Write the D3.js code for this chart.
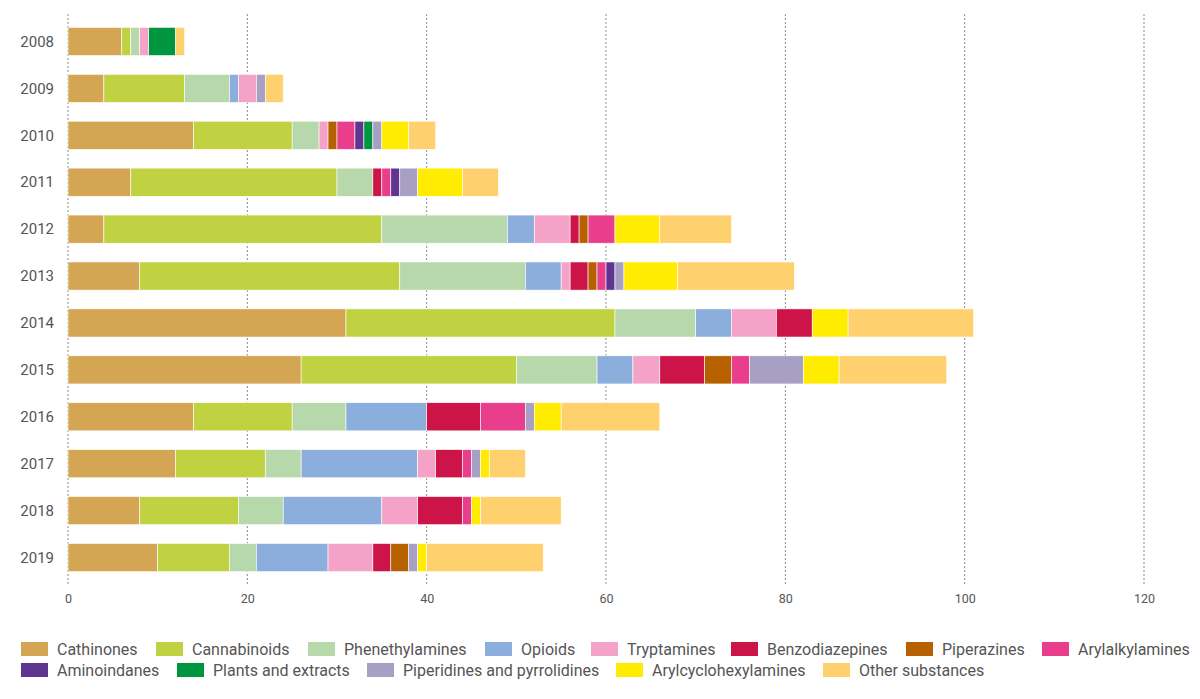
<!DOCTYPE html>
<html>
<head>
<meta charset="utf-8">
<script src="https://cdn.jsdelivr.net/npm/d3@7"></script>
<style>
  body { margin: 0; background: #fff; }
  svg { display: block; font-family: Roboto, "Noto Sans", sans-serif; }
</style>
</head>
<body>
<svg id="chart" width="1200" height="699"></svg>
<script>
// Data
const years = ["2008", "2009", "2010", "2011", "2012", "2013", "2014", "2015", "2016", "2017", "2018", "2019"];
const groups = ["Cathinones", "Cannabinoids", "Phenethylamines", "Opioids", "Tryptamines", "Benzodiazepines",
  "Piperazines", "Arylalkylamines", "Aminoindanes", "Plants and extracts", "Piperidines and pyrrolidines",
  "Arylcyclohexylamines", "Other substances"];
const colors = ["#d4a553", "#c0d241", "#b6d8ab", "#8caedc", "#f4a2c8", "#cc1449",
  "#b66000", "#e83e8c", "#5f3590", "#00953f", "#a89fc4", "#ffec00", "#ffd06e"];

// counts per group, one entry per year (2008..2019)
const cathinones      = [6, 4, 14, 7, 4, 8, 31, 26, 14, 12, 8, 10];
const cannabinoids    = [1, 9, 11, 23, 31, 29, 30, 24, 11, 10, 11, 8];
const phenethylamines = [1, 5, 3, 4, 14, 14, 9, 9, 6, 4, 5, 3];
const opioids         = [0, 1, 0, 0, 3, 4, 4, 4, 9, 13, 11, 8];
const tryptamines     = [1, 2, 1, 0, 4, 1, 5, 3, 0, 2, 4, 5];
const benzodiazepines = [0, 0, 0, 1, 1, 2, 4, 5, 6, 3, 5, 2];
const piperazines     = [0, 0, 1, 0, 1, 1, 0, 3, 0, 0, 0, 2];
const arylalkylamines = [0, 0, 2, 1, 3, 1, 0, 2, 5, 1, 1, 0];
const aminoindanes    = [0, 0, 1, 1, 0, 1, 0, 0, 0, 0, 0, 0];
const plants          = [3, 0, 1, 0, 0, 0, 0, 0, 0, 0, 0, 0];
const piperidines     = [0, 1, 1, 2, 0, 1, 0, 6, 1, 1, 0, 1];
const arylcyclo       = [0, 0, 3, 5, 5, 6, 4, 4, 3, 1, 1, 1];
const other           = [1, 2, 3, 4, 8, 13, 14, 12, 11, 4, 9, 13];

const series = [cathinones, cannabinoids, phenethylamines, opioids, tryptamines, benzodiazepines,
  piperazines, arylalkylamines, aminoindanes, plants, piperidines, arylcyclo, other];

const xTicks = [0, 20, 40, 60, 80, 100, 120];

// build table for d3.stack
const table = years.map((y, i) => {
  const row = {year: y};
  groups.forEach((g, j) => { row[g] = series[j][i]; });
  return row;
});

const svg = d3.select("#chart");
const margin = {left: 68, right: 56, top: 18, bottom: 118};
const width = 1200, height = 699;

const x = d3.scaleLinear().domain([0, 120]).range([margin.left, width - margin.right]);
const y = d3.scaleBand().domain(years)
  .range([margin.top, height - margin.bottom])
  .paddingInner(0.4).paddingOuter(0.2);
const color = d3.scaleOrdinal().domain(groups).range(colors);

// grid lines
svg.append("g").attr("class", "grid")
  .selectAll("line").data(xTicks).join("line")
  .attr("x1", d => x(d)).attr("x2", d => x(d))
  .attr("y1", 14).attr("y2", 584)
  .attr("stroke", "#8a8a8a")
  .attr("stroke-width", 1)
  .attr("stroke-dasharray", "2,2");

// stacked bars
const stacked = d3.stack().keys(groups)(table);

svg.append("g").selectAll("g").data(stacked).join("g")
  .attr("fill", d => color(d.key))
  .selectAll("rect").data(d => d.filter(s => s[1] > s[0])).join("rect")
  .attr("x", d => x(d[0]))
  .attr("y", d => y(d.data.year))
  .attr("width", d => x(d[1]) - x(d[0]))
  .attr("height", y.bandwidth())
  .attr("stroke", "#fff")
  .attr("stroke-width", 0.6);

// y labels
svg.append("g").selectAll("text").data(years).join("text")
  .attr("x", 54)
  .attr("y", d => y(d) + y.bandwidth() / 2)
  .attr("dy", "0.35em")
  .attr("text-anchor", "end")
  .attr("fill", "#555")
  .style("font-size", "15px")
  .text(d => d);

// x axis labels
const xAxis = svg.append("g")
  .attr("transform", "translate(0,599)")
  .call(d3.axisBottom(x).tickValues(xTicks).tickSize(0).tickPadding(0));
xAxis.select(".domain").remove();
xAxis.selectAll("text")
  .attr("dy", "0.35em")
  .attr("fill", "#555")
  .style("font-family", "Roboto, sans-serif")
  .style("font-size", "12.5px");

// legend (swatch positions follow the reference layout)
const legendRows = [groups.slice(0, 8), groups.slice(8)];
const legendX = [[21, 156, 308, 485, 591, 731, 906, 1042], [21, 177, 367, 616, 823]];
const legendY = [649, 670];
const legend = svg.append("g").attr("class", "legend");
legendRows.forEach((row, r) => {
  row.forEach((g, i) => {
    const item = legend.append("g").attr("transform", `translate(${legendX[r][i]},${legendY[r]})`);
    item.append("rect").attr("x", 0).attr("y", -7).attr("width", 27).attr("height", 14)
      .attr("fill", color(g));
    item.append("text").attr("x", 36).attr("y", 0).attr("dy", "0.35em")
      .attr("fill", "#555").style("font-size", "16px").text(g);
  });
});
</script>
</body>
</html>
